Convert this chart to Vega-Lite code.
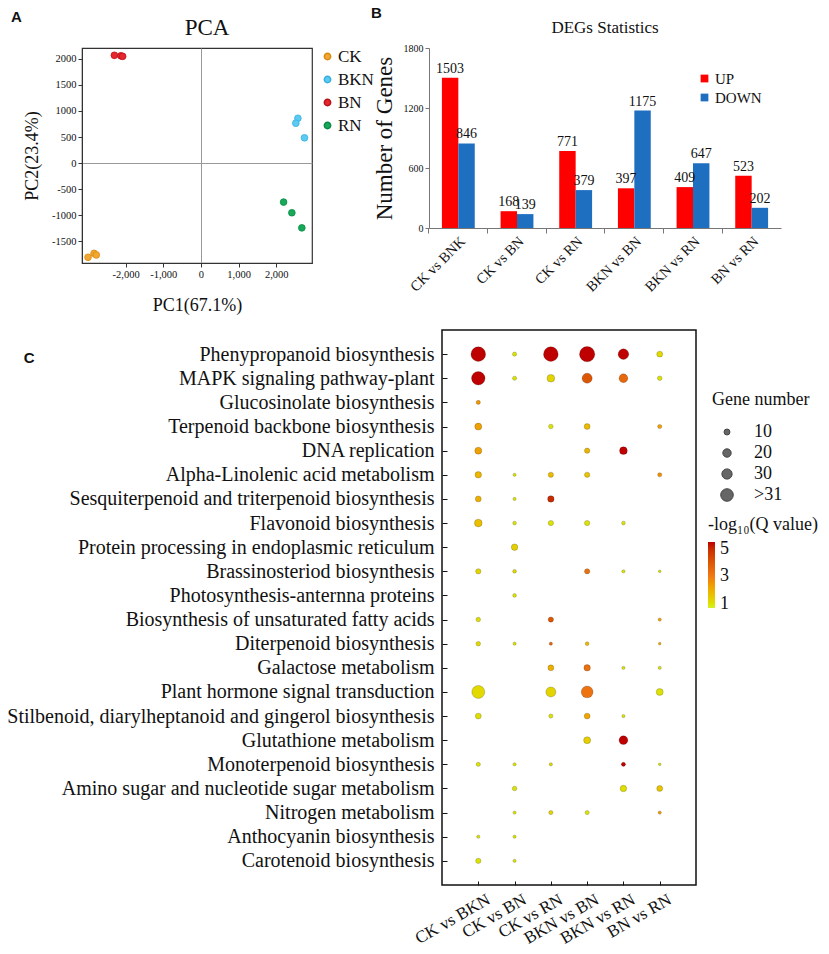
{
  "$schema": "https://vega.github.io/schema/vega-lite/v6.json",
  "padding": {"left": 6, "top": 6, "right": 2, "bottom": 2},
  "background": "white",
  "config": {
    "font": "Liberation Serif",
    "view": {"stroke": null},
    "axis": {"labelFont": "Liberation Serif", "titleFont": "Liberation Serif", "labelColor": "#111", "titleColor": "#111", "domainColor": "#333", "tickColor": "#333", "grid": false, "titleFontWeight": "normal"},
    "legend": {"labelFont": "Liberation Serif", "titleFont": "Liberation Serif", "titleFontWeight": "normal", "labelColor": "#111", "titleColor": "#111", "padding": 0},
    "title": {"font": "Liberation Serif", "fontWeight": "normal", "color": "#111"}
  },
  "datasets": {
    "pca": [
      {"group": "CK", "PC1": -3000, "PC2": -1810},
      {"group": "CK", "PC1": -2840, "PC2": -1735},
      {"group": "CK", "PC1": -2780, "PC2": -1765},
      {"group": "BKN", "PC1": 2575, "PC2": 860},
      {"group": "BKN", "PC1": 2520, "PC2": 765},
      {"group": "BKN", "PC1": 2750, "PC2": 485},
      {"group": "BN", "PC1": -2300, "PC2": 2070},
      {"group": "BN", "PC1": -2130, "PC2": 2060},
      {"group": "BN", "PC1": -2080, "PC2": 2050},
      {"group": "RN", "PC1": 2195, "PC2": -750},
      {"group": "RN", "PC1": 2415, "PC2": -955},
      {"group": "RN", "PC1": 2680, "PC2": -1245}
    ],
    "deg": [
      {"comparison": "CK vs BNK", "direction": "UP", "count": 1503},
      {"comparison": "CK vs BNK", "direction": "DOWN", "count": 846},
      {"comparison": "CK vs BN", "direction": "UP", "count": 168},
      {"comparison": "CK vs BN", "direction": "DOWN", "count": 139},
      {"comparison": "CK vs RN", "direction": "UP", "count": 771},
      {"comparison": "CK vs RN", "direction": "DOWN", "count": 379},
      {"comparison": "BKN vs BN", "direction": "UP", "count": 397},
      {"comparison": "BKN vs BN", "direction": "DOWN", "count": 1175},
      {"comparison": "BKN vs RN", "direction": "UP", "count": 409},
      {"comparison": "BKN vs RN", "direction": "DOWN", "count": 647},
      {"comparison": "BN vs RN", "direction": "UP", "count": 523},
      {"comparison": "BN vs RN", "direction": "DOWN", "count": 202}
    ],
    "kegg": [
      {"pathway": "Phenypropanoid biosynthesis", "comparison": "CK vs BKN", "genes": 62, "q": 5.5},
      {"pathway": "Phenypropanoid biosynthesis", "comparison": "CK vs BN", "genes": 5, "q": 1.0},
      {"pathway": "Phenypropanoid biosynthesis", "comparison": "CK vs RN", "genes": 62, "q": 5.5},
      {"pathway": "Phenypropanoid biosynthesis", "comparison": "BKN vs BN", "genes": 67, "q": 5.5},
      {"pathway": "Phenypropanoid biosynthesis", "comparison": "BKN vs RN", "genes": 32, "q": 5.5},
      {"pathway": "Phenypropanoid biosynthesis", "comparison": "BN vs RN", "genes": 10, "q": 1.2},
      {"pathway": "MAPK signaling pathway-plant", "comparison": "CK vs BKN", "genes": 52, "q": 5.5},
      {"pathway": "MAPK signaling pathway-plant", "comparison": "CK vs BN", "genes": 5, "q": 1.0},
      {"pathway": "MAPK signaling pathway-plant", "comparison": "CK vs RN", "genes": 17, "q": 1.3},
      {"pathway": "MAPK signaling pathway-plant", "comparison": "BKN vs BN", "genes": 29, "q": 4.0},
      {"pathway": "MAPK signaling pathway-plant", "comparison": "BKN vs RN", "genes": 22, "q": 3.5},
      {"pathway": "MAPK signaling pathway-plant", "comparison": "BN vs RN", "genes": 6, "q": 1.0},
      {"pathway": "Glucosinolate biosynthesis", "comparison": "CK vs BKN", "genes": 5, "q": 2.5},
      {"pathway": "Terpenoid backbone biosynthesis", "comparison": "CK vs BKN", "genes": 14, "q": 2.3},
      {"pathway": "Terpenoid backbone biosynthesis", "comparison": "CK vs RN", "genes": 6, "q": 1.0},
      {"pathway": "Terpenoid backbone biosynthesis", "comparison": "BKN vs BN", "genes": 10, "q": 1.8},
      {"pathway": "Terpenoid backbone biosynthesis", "comparison": "BN vs RN", "genes": 5, "q": 2.3},
      {"pathway": "DNA replication", "comparison": "CK vs BKN", "genes": 14, "q": 2.3},
      {"pathway": "DNA replication", "comparison": "BKN vs BN", "genes": 8, "q": 1.9},
      {"pathway": "DNA replication", "comparison": "BKN vs RN", "genes": 17, "q": 5.5},
      {"pathway": "Alpha-Linolenic acid metabolism", "comparison": "CK vs BKN", "genes": 12, "q": 1.9},
      {"pathway": "Alpha-Linolenic acid metabolism", "comparison": "CK vs BN", "genes": 3, "q": 1.0},
      {"pathway": "Alpha-Linolenic acid metabolism", "comparison": "CK vs RN", "genes": 8, "q": 1.8},
      {"pathway": "Alpha-Linolenic acid metabolism", "comparison": "BKN vs BN", "genes": 8, "q": 1.6},
      {"pathway": "Alpha-Linolenic acid metabolism", "comparison": "BN vs RN", "genes": 5, "q": 2.6},
      {"pathway": "Sesquiterpenoid and triterpenoid biosynthesis", "comparison": "CK vs BKN", "genes": 10, "q": 2.0},
      {"pathway": "Sesquiterpenoid and triterpenoid biosynthesis", "comparison": "CK vs BN", "genes": 3, "q": 1.0},
      {"pathway": "Sesquiterpenoid and triterpenoid biosynthesis", "comparison": "CK vs RN", "genes": 12, "q": 5.0},
      {"pathway": "Flavonoid biosynthesis", "comparison": "CK vs BKN", "genes": 17, "q": 1.7},
      {"pathway": "Flavonoid biosynthesis", "comparison": "CK vs BN", "genes": 4, "q": 1.0},
      {"pathway": "Flavonoid biosynthesis", "comparison": "CK vs RN", "genes": 8, "q": 1.0},
      {"pathway": "Flavonoid biosynthesis", "comparison": "BKN vs BN", "genes": 8, "q": 1.0},
      {"pathway": "Flavonoid biosynthesis", "comparison": "BKN vs RN", "genes": 4, "q": 1.0},
      {"pathway": "Protein processing in endoplasmic reticulum", "comparison": "CK vs BN", "genes": 12, "q": 1.4},
      {"pathway": "Brassinosteriod biosynthesis", "comparison": "CK vs BKN", "genes": 8, "q": 1.3},
      {"pathway": "Brassinosteriod biosynthesis", "comparison": "CK vs BN", "genes": 4, "q": 1.2},
      {"pathway": "Brassinosteriod biosynthesis", "comparison": "BKN vs BN", "genes": 8, "q": 3.3},
      {"pathway": "Brassinosteriod biosynthesis", "comparison": "BKN vs RN", "genes": 3, "q": 1.0},
      {"pathway": "Brassinosteriod biosynthesis", "comparison": "BN vs RN", "genes": 2, "q": 1.0},
      {"pathway": "Photosynthesis-anternna proteins", "comparison": "CK vs BN", "genes": 4, "q": 1.0},
      {"pathway": "Biosynthesis of unsaturated fatty acids", "comparison": "CK vs BKN", "genes": 6, "q": 1.1},
      {"pathway": "Biosynthesis of unsaturated fatty acids", "comparison": "CK vs RN", "genes": 8, "q": 4.0},
      {"pathway": "Biosynthesis of unsaturated fatty acids", "comparison": "BN vs RN", "genes": 3, "q": 2.2},
      {"pathway": "Diterpenoid biosynthesis", "comparison": "CK vs BKN", "genes": 6, "q": 1.2},
      {"pathway": "Diterpenoid biosynthesis", "comparison": "CK vs BN", "genes": 3, "q": 1.0},
      {"pathway": "Diterpenoid biosynthesis", "comparison": "CK vs RN", "genes": 3, "q": 3.5},
      {"pathway": "Diterpenoid biosynthesis", "comparison": "BKN vs BN", "genes": 4, "q": 1.8},
      {"pathway": "Diterpenoid biosynthesis", "comparison": "BN vs RN", "genes": 2, "q": 2.0},
      {"pathway": "Galactose metabolism", "comparison": "CK vs RN", "genes": 10, "q": 2.0},
      {"pathway": "Galactose metabolism", "comparison": "BKN vs BN", "genes": 12, "q": 3.3},
      {"pathway": "Galactose metabolism", "comparison": "BKN vs RN", "genes": 3, "q": 1.0},
      {"pathway": "Galactose metabolism", "comparison": "BN vs RN", "genes": 3, "q": 1.0},
      {"pathway": "Plant hormone signal transduction", "comparison": "CK vs BKN", "genes": 48, "q": 1.2},
      {"pathway": "Plant hormone signal transduction", "comparison": "CK vs RN", "genes": 29, "q": 1.3},
      {"pathway": "Plant hormone signal transduction", "comparison": "BKN vs BN", "genes": 40, "q": 3.2},
      {"pathway": "Plant hormone signal transduction", "comparison": "BN vs RN", "genes": 14, "q": 1.0},
      {"pathway": "Stilbenoid, diarylheptanoid and gingerol biosynthesis", "comparison": "CK vs BKN", "genes": 10, "q": 1.1},
      {"pathway": "Stilbenoid, diarylheptanoid and gingerol biosynthesis", "comparison": "CK vs RN", "genes": 5, "q": 1.0},
      {"pathway": "Stilbenoid, diarylheptanoid and gingerol biosynthesis", "comparison": "BKN vs BN", "genes": 10, "q": 2.2},
      {"pathway": "Stilbenoid, diarylheptanoid and gingerol biosynthesis", "comparison": "BKN vs RN", "genes": 3, "q": 1.0},
      {"pathway": "Glutathione metabolism", "comparison": "BKN vs BN", "genes": 14, "q": 1.4},
      {"pathway": "Glutathione metabolism", "comparison": "BKN vs RN", "genes": 22, "q": 5.5},
      {"pathway": "Monoterpenoid biosynthesis", "comparison": "CK vs BKN", "genes": 5, "q": 1.0},
      {"pathway": "Monoterpenoid biosynthesis", "comparison": "CK vs BN", "genes": 3, "q": 1.0},
      {"pathway": "Monoterpenoid biosynthesis", "comparison": "CK vs RN", "genes": 3, "q": 1.2},
      {"pathway": "Monoterpenoid biosynthesis", "comparison": "BKN vs RN", "genes": 5, "q": 5.6},
      {"pathway": "Monoterpenoid biosynthesis", "comparison": "BN vs RN", "genes": 2, "q": 1.0},
      {"pathway": "Amino sugar and nucleotide sugar metabolism", "comparison": "CK vs BN", "genes": 6, "q": 1.0},
      {"pathway": "Amino sugar and nucleotide sugar metabolism", "comparison": "BKN vs RN", "genes": 12, "q": 1.1},
      {"pathway": "Amino sugar and nucleotide sugar metabolism", "comparison": "BN vs RN", "genes": 10, "q": 1.6},
      {"pathway": "Nitrogen metabolism", "comparison": "CK vs BN", "genes": 3, "q": 1.0},
      {"pathway": "Nitrogen metabolism", "comparison": "CK vs RN", "genes": 5, "q": 1.3},
      {"pathway": "Nitrogen metabolism", "comparison": "BKN vs BN", "genes": 5, "q": 1.0},
      {"pathway": "Nitrogen metabolism", "comparison": "BN vs RN", "genes": 3, "q": 2.3},
      {"pathway": "Anthocyanin biosynthesis", "comparison": "CK vs BKN", "genes": 3, "q": 1.0},
      {"pathway": "Anthocyanin biosynthesis", "comparison": "CK vs BN", "genes": 3, "q": 1.0},
      {"pathway": "Carotenoid biosynthesis", "comparison": "CK vs BKN", "genes": 8, "q": 1.0},
      {"pathway": "Carotenoid biosynthesis", "comparison": "CK vs BN", "genes": 3, "q": 1.0}
    ]
  },
  "resolve": {"scale": {"color": "independent", "stroke": "independent", "size": "independent"}},
  "spacing": 13,
  "vconcat": [
    {
      "spacing": -4,
      "resolve": {"scale": {"color": "independent", "stroke": "independent"}},
      "hconcat": [
        {
          "title": {"text": "A", "anchor": "start", "font": "Liberation Sans", "fontWeight": "bold", "fontSize": 15, "dx": -12, "dy": 9, "offset": 0},
          "resolve": {"scale": {"color": "independent", "stroke": "independent"}},
          "vconcat": [
            {
              "title": {"text": "PCA", "fontSize": 23, "offset": 8, "dx": 10},
              "width": 230,
              "height": 215,
              "data": {"name": "pca"},
              "view": {"stroke": "#333", "strokeWidth": 1.2},
              "mark": {"type": "circle", "size": 45, "opacity": 1, "strokeWidth": 0.8},
              "encoding": {
                "x": {"field": "PC1", "type": "quantitative",
                  "scale": {"domain": [-3160, 2950], "nice": false, "zero": false},
                  "axis": {"title": "PC1(67.1%)", "values": [-2000, -1000, 0, 1000, 2000], "format": ",.0f", "labelExpr": "replace(datum.label, '−', '-')", "labelFontSize": 10.5, "titleFontSize": 18, "titlePadding": 17, "tickSize": 4, "labelPadding": 2,
                    "grid": true, "gridColor": "#999", "gridOpacity": {"condition": {"test": "datum.value === 0", "value": 1}, "value": 0}}},
                "y": {"field": "PC2", "type": "quantitative",
                  "scale": {"domain": [-1920, 2210], "nice": false, "zero": false},
                  "axis": {"title": "PC2(23.4%)", "values": [-1500, -1000, -500, 0, 500, 1000, 1500, 2000], "format": ".0f", "labelExpr": "replace(datum.label, '−', '-')", "labelFontSize": 10.5, "titleFontSize": 18, "titlePadding": 10, "tickSize": 4, "labelPadding": 2,
                    "grid": true, "gridColor": "#999", "gridOpacity": {"condition": {"test": "datum.value === 0", "value": 1}, "value": 0}}},
                "color": {"field": "group", "type": "nominal",
                  "scale": {"domain": ["CK", "BKN", "BN", "RN"], "range": ["#f2a733", "#5ccbf2", "#e8262e", "#17a85a"]},
                  "legend": {"title": null, "orient": "right", "offset": 7, "labelFontSize": 17, "symbolType": "circle", "symbolSize": 40, "rowPadding": 5, "labelOffset": 2}},
                "stroke": {"field": "group", "type": "nominal",
                  "scale": {"domain": ["CK", "BKN", "BN", "RN"], "range": ["#d88a10", "#36aee0", "#b81018", "#0a8a44"]},
                  "legend": null}
              }
            }
          ]
        },
        {
          "title": {"text": "B", "anchor": "start", "font": "Liberation Sans", "fontWeight": "bold", "fontSize": 15, "dx": -2, "dy": 2, "offset": 0},
          "resolve": {"scale": {"color": "independent"}},
          "vconcat": [
            {
              "title": {"text": "DEGs Statistics", "fontSize": 17, "offset": 6},
              "width": 352,
              "height": 180,
              "data": {"name": "deg"},
              "resolve": {"axis": {"x": "independent"}},
              "layer": [
                {
                  "mark": {"type": "bar"},
                  "encoding": {
                    "x": {"field": "comparison", "type": "nominal", "sort": null,
                      "scale": {"paddingInner": 0.44, "paddingOuter": 0.22},
                      "axis": {"title": null, "labelAngle": -45, "labelAlign": "right", "labelBaseline": "top", "labelFontSize": 14.5, "ticks": false, "labelPadding": 6, "domainColor": "#777"}},
                    "xOffset": {"field": "direction", "type": "nominal", "sort": ["UP", "DOWN"], "scale": {"paddingInner": 0}},
                    "y": {"field": "count", "type": "quantitative",
                      "scale": {"domain": [0, 1800]},
                      "axis": {"title": "Number of Genes", "values": [0, 600, 1200, 1800], "format": "d", "titleFontSize": 23, "labelFontSize": 10, "tickSize": 4, "titlePadding": 7, "labelPadding": 2, "domainColor": "#777", "tickColor": "#777"}},
                    "color": {"field": "direction", "type": "nominal",
                      "scale": {"domain": ["UP", "DOWN"], "range": ["#fe0000", "#1f6fc1"]},
                      "legend": {"title": null, "orient": "none", "legendX": 268, "legendY": 23, "labelFontSize": 15, "symbolType": "square", "symbolSize": 60, "rowPadding": 3, "labelOffset": 3}}
                  }
                },
                {
                  "mark": {"type": "text", "baseline": "bottom", "dy": -2, "fontSize": 14, "font": "Liberation Serif", "color": "#111"},
                  "encoding": {
                    "x": {"field": "comparison", "type": "nominal", "sort": null,
                      "axis": {"title": null, "orient": "bottom", "labels": false, "domain": false, "ticks": true, "tickSize": 5, "tickColor": "#777", "bandPosition": -0.393}},
                    "xOffset": {"field": "direction", "type": "nominal", "sort": ["UP", "DOWN"]},
                    "y": {"field": "count", "type": "quantitative"},
                    "text": {"field": "count"}
                  }
                }
              ]
            }
          ]
        }
      ]
    },
    {
      "bounds": "flush",
      "spacing": 0,
      "resolve": {"scale": {"color": "independent", "size": "independent"}},
      "hconcat": [
        {
          "width": 360,
          "height": 10,
          "data": {"values": []},
          "mark": {"type": "point", "opacity": 0}
        },
        {
          "title": {"text": "C", "anchor": "start", "frame": "bounds", "font": "Liberation Sans", "fontWeight": "bold", "fontSize": 15, "dx": 17, "dy": 36, "offset": 0},
          "width": 254,
          "height": 555,
          "data": {"name": "kegg"},
          "view": {"stroke": "#111", "strokeWidth": 1.5},
          "mark": {"type": "circle", "opacity": 1, "stroke": "#000", "strokeOpacity": 0.18, "strokeWidth": 1},
          "encoding": {
            "x": {"field": "comparison", "type": "nominal",
              "sort": ["CK vs BKN", "CK vs BN", "CK vs RN", "BKN vs BN", "BKN vs RN", "BN vs RN"],
              "scale": {"type": "point", "padding": 1},
              "axis": {"title": null, "labelAngle": -30, "labelAlign": "right", "labelBaseline": "top", "labelFontSize": 17, "tickSize": -4, "labelPadding": 10, "labelOffset": 6, "domain": false, "tickColor": "#111"}},
            "y": {"field": "pathway", "type": "nominal",
              "sort": ["Phenypropanoid biosynthesis", "MAPK signaling pathway-plant", "Glucosinolate biosynthesis", "Terpenoid backbone biosynthesis", "DNA replication", "Alpha-Linolenic acid metabolism", "Sesquiterpenoid and triterpenoid biosynthesis", "Flavonoid biosynthesis", "Protein processing in endoplasmic reticulum", "Brassinosteriod biosynthesis", "Photosynthesis-anternna proteins", "Biosynthesis of unsaturated fatty acids", "Diterpenoid biosynthesis", "Galactose metabolism", "Plant hormone signal transduction", "Stilbenoid, diarylheptanoid and gingerol biosynthesis", "Glutathione metabolism", "Monoterpenoid biosynthesis", "Amino sugar and nucleotide sugar metabolism", "Nitrogen metabolism", "Anthocyanin biosynthesis", "Carotenoid biosynthesis"],
              "scale": {"type": "point", "padding": 1},
              "axis": {"title": null, "labelFontSize": 20, "tickSize": -5, "labelPadding": 13, "domain": false, "labelLimit": 600, "tickColor": "#111"}},
            "size": {"field": "genes", "type": "quantitative",
              "scale": {"domain": [0, 60], "range": [0, 210], "zero": true},
              "legend": {"title": "Gene number", "orient": "none", "legendX": 270, "legendY": 61, "titleFontSize": 18, "titlePadding": 14, "labelFontSize": 18, "values": [10, 20, 30, 45], "labelExpr": "datum.value > 31 ? '>31' : datum.label", "symbolFillColor": "#666", "symbolStrokeColor": "#444", "symbolStrokeWidth": 1, "symbolOffset": 6, "rowPadding": 3, "labelOffset": 18}},
            "color": {"field": "q", "type": "quantitative",
              "scale": {"domain": [0.7, 3, 5.5], "range": ["#d4f224", "#f07a14", "#bf0000"]},
              "legend": {"type": "gradient", "title": "-log₁₀(Q value)", "orient": "none", "legendX": 266, "legendY": 186, "titleFontSize": 18, "titlePadding": 8, "labelFontSize": 18, "values": [1, 3, 5], "gradientLength": 66, "gradientThickness": 7, "labelOffset": 5, "direction": "vertical"}}
          }
        }
      ]
    }
  ]
}
